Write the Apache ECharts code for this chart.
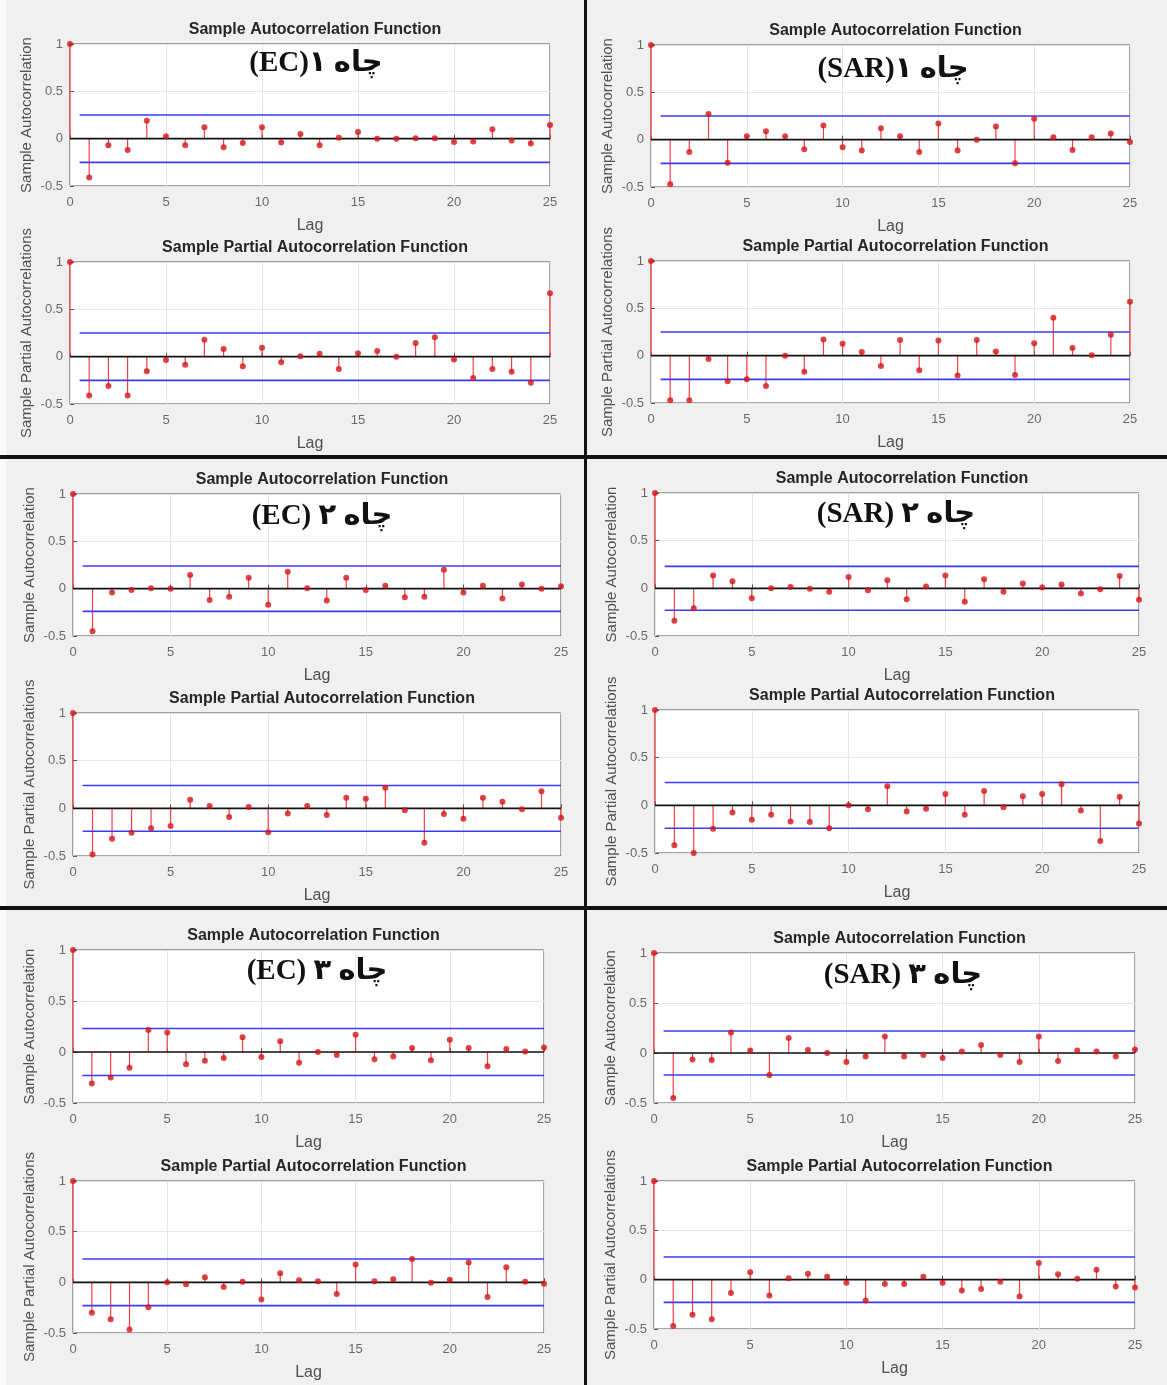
<!DOCTYPE html>
<html><head><meta charset="utf-8">
<script src="https://cdn.jsdelivr.net/npm/echarts@6/dist/echarts.min.js"></script>
<style>html,body{margin:0;padding:0;background:#f0f0f0}#c{width:1167px;height:1385px}</style>
</head><body><div id="c"></div><script>
// ---------- data ----------
const lags = [0,1,2,3,4,5,6,7,8,9,10,11,12,13,14,15,16,17,18,19,20,21,22,23,24,25];
const xTicks = [0,5,10,15,20,25];
const yTicks = [-0.5,0,0.5,1];

const ec1Acf   = [1,-0.41,-0.07,-0.12,0.19,0.025,-0.07,0.12,-0.09,-0.045,0.12,-0.04,0.05,-0.07,0.01,0.07,0.0,0.0,0.005,0.005,-0.035,-0.03,0.10,-0.02,-0.05,0.145];
const ec1Pacf  = [1,-0.41,-0.31,-0.41,-0.155,-0.035,-0.085,0.18,0.08,-0.10,0.095,-0.06,0.005,0.03,-0.13,0.035,0.06,0.0,0.145,0.205,-0.03,-0.225,-0.13,-0.16,-0.275,0.67];
const sar1Acf  = [1,-0.47,-0.13,0.27,-0.245,0.035,0.09,0.035,-0.10,0.15,-0.08,-0.115,0.12,0.035,-0.13,0.17,-0.115,0.0,0.14,-0.25,0.22,0.025,-0.11,0.025,0.065,-0.025];
const sar1Pacf = [1,-0.47,-0.47,-0.035,-0.27,-0.25,-0.32,0.0,-0.17,0.17,0.125,0.04,-0.11,0.165,-0.155,0.16,-0.21,0.165,0.045,-0.205,0.13,0.40,0.08,0.005,0.22,0.57];
const ec2Acf   = [1,-0.45,-0.04,-0.015,0.005,0.0,0.145,-0.12,-0.085,0.115,-0.17,0.18,0.005,-0.125,0.115,-0.015,0.03,-0.09,-0.085,0.20,-0.04,0.03,-0.105,0.045,0.0,0.025];
const ec2Pacf  = [1,-0.485,-0.32,-0.255,-0.21,-0.185,0.09,0.025,-0.09,0.015,-0.25,-0.055,0.025,-0.07,0.11,0.10,0.215,-0.02,-0.36,-0.06,-0.11,0.11,0.07,-0.01,0.18,-0.10];
const sar2Acf  = [1,-0.34,-0.21,0.135,0.075,-0.105,0.0,0.015,-0.005,-0.035,0.12,-0.02,0.085,-0.115,0.02,0.135,-0.14,0.095,-0.035,0.05,0.01,0.04,-0.055,-0.01,0.13,-0.12];
const sar2Pacf = [1,-0.42,-0.50,-0.245,-0.075,-0.15,-0.10,-0.17,-0.175,-0.24,0.0,-0.04,0.20,-0.065,-0.035,0.12,-0.10,0.15,-0.02,0.095,0.12,0.22,-0.055,-0.375,0.09,-0.19];
const ec3Acf   = [1,-0.31,-0.25,-0.155,0.215,0.19,-0.12,-0.085,-0.06,0.145,-0.05,0.105,-0.105,0.0,-0.03,0.17,-0.07,-0.045,0.04,-0.08,0.12,0.04,-0.14,0.03,0.005,0.045];
const ec3Pacf  = [1,-0.30,-0.365,-0.465,-0.245,0.0,-0.02,0.05,-0.045,0.005,-0.17,0.09,0.02,0.01,-0.115,0.175,0.01,0.03,0.23,-0.005,0.025,0.195,-0.145,0.15,0.005,-0.015];
const sar3Acf  = [1,-0.45,-0.065,-0.07,0.205,0.025,-0.22,0.15,0.03,0.0,-0.09,-0.035,0.165,-0.035,-0.02,-0.05,0.015,0.08,-0.02,-0.09,0.165,-0.08,0.025,0.015,-0.035,0.035];
const sar3Pacf = [1,-0.47,-0.355,-0.40,-0.135,0.075,-0.16,0.015,0.06,0.03,-0.03,-0.21,-0.045,-0.045,0.03,-0.03,-0.11,-0.095,-0.02,-0.17,0.17,0.055,0.01,0.10,-0.07,-0.08];

// confidence bounds (+/-) and the lag at which they start
const confBounds = [0.25,0.25,0.25,0.25,0.24,0.24,0.23,0.24,0.23,0.23,0.22,0.23];
const boundStartLag = 0.5;

const wellLabels = ['\u202Bچاه ۱(EC)\u202C','\u202Bچاه ۱(SAR)\u202C','\u202Bچاه ۲ (EC)\u202C','\u202Bچاه ۲ (SAR)\u202C','\u202Bچاه ۳ (EC)\u202C','\u202Bچاه ۳ (SAR)\u202C'];
const acfTitle = 'Sample Autocorrelation Function';
const pacfTitle = 'Sample Partial Autocorrelation Function';
const acfYName = 'Sample Autocorrelation';
const pacfYName = 'Sample Partial Autocorrelations';
const xName = 'Lag';

// ---------- layout ----------
const series12 = [ec1Acf, ec1Pacf, sar1Acf, sar1Pacf, ec2Acf, ec2Pacf, sar2Acf, sar2Pacf, ec3Acf, ec3Pacf, sar3Acf, sar3Pacf];
const boxes = [
  {l:70, t:44, w:480, h:142}, {l:70, t:262, w:480, h:142},
  {l:651, t:45, w:479, h:142}, {l:651, t:261, w:479, h:142},
  {l:73, t:494, w:488, h:142}, {l:73, t:713, w:488, h:143},
  {l:655, t:493, w:484, h:143}, {l:655, t:710, w:484, h:143},
  {l:73, t:950, w:471, h:153}, {l:73, t:1181, w:471, h:152},
  {l:654, t:953, w:481, h:150}, {l:654, t:1181, w:481, h:148}
];
const labelPos = [[316,64],[893,70],[322,517],[896,515],[317,972],[903,976]];

const baseFont = 'Liberation Sans, Arial, sans-serif';
const grids = [], xAxes = [], yAxes = [], series = [], titles = [];
boxes.forEach((b, i) => {
  const isAcf = i % 2 === 0;
  const vals = series12[i];
  const bound = confBounds[i];
  grids.push({left:b.l, top:b.t, width:b.w, height:b.h, show:true, backgroundColor:'#ffffff', borderColor:'#4a4a4a', borderWidth:1});
  xAxes.push({type:'value', gridIndex:i, min:0, max:25, interval:5,
    name:xName, nameLocation:'middle', nameGap:32,
    nameTextStyle:{fontSize:16, color:'#505050', fontFamily:baseFont},
    axisLine:{show:false}, axisTick:{show:true, inside:true, length:4, lineStyle:{color:'#555'}},
    axisLabel:{fontSize:13, color:'#6a6a6a', margin:10, fontFamily:baseFont},
    splitLine:{show:true, lineStyle:{color:'#e6e6e6', width:1}}});
  yAxes.push({type:'value', gridIndex:i, min:-0.5, max:1, interval:0.5,
    name:isAcf ? acfYName : pacfYName, nameLocation:'middle', nameRotate:90, nameGap:36,
    nameTextStyle:{fontSize:15, color:'#505050', fontFamily:baseFont},
    axisLine:{show:false}, axisTick:{show:true, inside:true, length:4, lineStyle:{color:'#555'}},
    axisLabel:{fontSize:13, color:'#6a6a6a', margin:7, fontFamily:baseFont},
    splitLine:{show:true, lineStyle:{color:'#e6e6e6', width:1}}});
  titles.push({text:isAcf ? acfTitle : pacfTitle, left:b.l + b.w/2, top:b.t - 27, textAlign:'center',
    textStyle:{fontSize:16, fontWeight:'bold', color:'#262626', fontFamily:baseFont}});
  const pts = lags.map((lag, k) => [lag, vals[k]]);
  // stems
  series.push({type:'custom', xAxisIndex:i, yAxisIndex:i, z:2, data:pts, silent:true,
    renderItem:(params, api) => {
      const p0 = api.coord([api.value(0), 0]);
      const p1 = api.coord([api.value(0), api.value(1)]);
      return {type:'line', shape:{x1:p0[0], y1:p0[1], x2:p1[0], y2:p1[1]}, style:{stroke:'#f24040', lineWidth:1.2}};
    }});
  // zero line
  series.push({type:'line', xAxisIndex:i, yAxisIndex:i, z:3, symbol:'none', silent:true,
    data:[[lags[0],0],[lags[lags.length-1],0]], lineStyle:{color:'#111', width:1.6}});
  // confidence bounds
  [bound, -bound].forEach(v => series.push({type:'line', xAxisIndex:i, yAxisIndex:i, z:3, symbol:'none', silent:true,
    data:[[boundStartLag, v],[lags[lags.length-1], v]], lineStyle:{color:'#3b3bf0', width:1.6}}));
  // markers
  series.push({type:'scatter', xAxisIndex:i, yAxisIndex:i, z:4, data:pts, symbol:'circle', symbolSize:6, silent:true,
    itemStyle:{color:'#d41418'}});
});

const graphics = [
  {type:'rect', shape:{x:0, y:0, width:6, height:1385}, style:{fill:'#fbfbfb'}, z:-1},
  {type:'rect', shape:{x:584, y:0, width:3, height:1385}, style:{fill:'#111'}},
  {type:'rect', shape:{x:0, y:455, width:1167, height:4}, style:{fill:'#111'}},
  {type:'rect', shape:{x:0, y:906, width:1167, height:4}, style:{fill:'#111'}}
];
labelPos.forEach((p, i) => graphics.push({type:'text', x:p[0], y:p[1], z:100,
  style:{text:wellLabels[i], font:'bold 29px "Liberation Serif", "DejaVu Serif", "DejaVu Sans"', fill:'#111', align:'center', verticalAlign:'middle'}}));

const chart = echarts.init(document.getElementById('c'), null, {renderer:'canvas'});
chart.setOption({
  backgroundColor:'#f0f0f0', animation:false,
  title:titles, grid:grids, xAxis:xAxes, yAxis:yAxes, series:series, graphic:graphics
});
</script></body></html>
